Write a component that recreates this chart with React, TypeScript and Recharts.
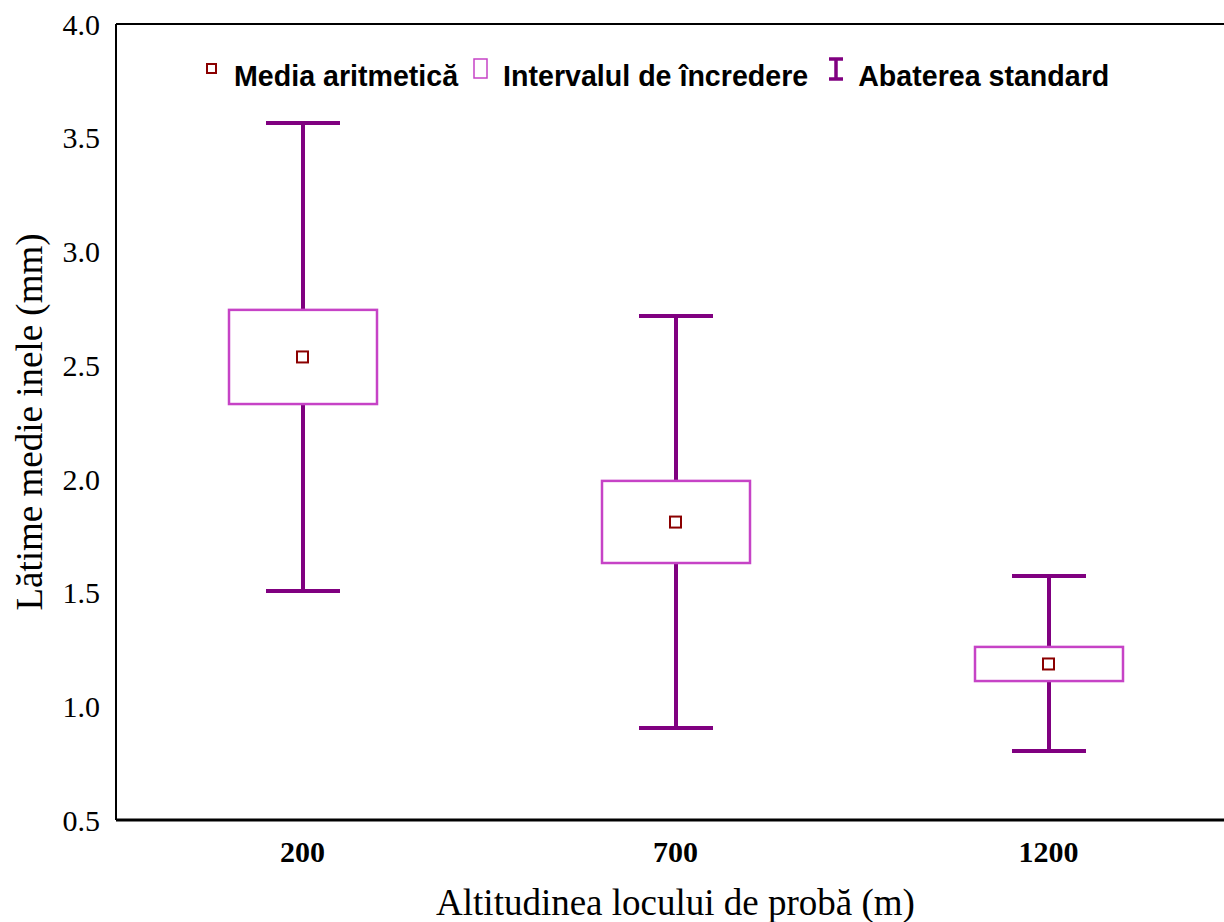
import {
  Bar,
  ComposedChart,
  Legend,
  ReferenceLine,
  Scatter,
  XAxis,
  YAxis,
} from 'recharts';

// altitude classes (m)
const categories = ['200', '700', '1200'];
// arithmetic mean of ring width (mm)
const means = [2.536, 1.81, 1.186];
// confidence interval bounds
const ciLow = [2.329, 1.63, 1.111];
const ciHigh = [2.743, 1.991, 1.261];
// mean ± standard deviation
const sdLow = [1.507, 0.905, 0.803];
const sdHigh = [3.565, 2.716, 1.573];
const yTicks = [0.5, 1.0, 1.5, 2.0, 2.5, 3.0, 3.5, 4.0];

const rows = categories.map((cat, i) => ({
  cat,
  mean: means[i],
  ci: [ciLow[i], ciHigh[i]],
  sd: [sdLow[i], sdHigh[i]],
}));

const PURPLE = '#800080';
const PINK = '#C643C6';
const DARK_RED = '#8B0000';
const SERIF = '"Liberation Serif", "Times New Roman", serif';
const SANS = '"Liberation Sans", Arial, sans-serif';

function Whisker(props: any) {
  const {x, y, width, height} = props;
  const top = Math.min(y, y + height);
  const bottom = Math.max(y, y + height);
  const cx = x + width / 2;
  return (
    <g stroke={PURPLE} strokeWidth={4}>
      <line x1={cx} y1={top} x2={cx} y2={bottom} />
      <line x1={x} y1={top} x2={x + width} y2={top} />
      <line x1={x} y1={bottom} x2={x + width} y2={bottom} />
    </g>
  );
}

function CiBox(props: any) {
  const {x, y, width, height} = props;
  const top = Math.min(y, y + height);
  return (
    <rect
      x={x}
      y={top}
      width={width}
      height={Math.abs(height)}
      fill="#fff"
      stroke={PINK}
      strokeWidth={2.5}
    />
  );
}

function MeanMark(props: any) {
  const {cx, cy} = props;
  return (
    <rect x={cx - 5.5} y={cy - 5.5} width={11} height={11} fill="#fff" stroke={DARK_RED} strokeWidth={2} />
  );
}

function KeyRow() {
  return (
    <div
      style={{
        display: 'flex',
        alignItems: 'flex-start',
        fontFamily: SANS,
        fontWeight: 700,
        fontSize: 28.6,
        lineHeight: '32px',
        color: '#000',
        whiteSpace: 'nowrap',
      }}
    >
      <svg width={11} height={11} style={{marginTop: 3, marginRight: 17}}>
        <rect x={1} y={1} width={9} height={9} fill="#fff" stroke={DARK_RED} strokeWidth={2} />
      </svg>
      <span>Media aritmetică</span>
      <svg width={15} height={21} style={{marginTop: -2, marginLeft: 15, marginRight: 15}}>
        <rect x={1} y={1} width={13} height={19} fill="#fff" stroke={PINK} strokeWidth={1.5} />
      </svg>
      <span>Intervalul de încredere</span>
      <svg width={16} height={24} style={{marginTop: -3, marginLeft: 20, marginRight: 14}}>
        <g stroke={PURPLE} strokeWidth={3.5}>
          <line x1={8} y1={2} x2={8} y2={22} />
          <line x1={1} y1={2} x2={15} y2={2} />
          <line x1={1} y1={22} x2={15} y2={22} />
        </g>
      </svg>
      <span>Abaterea standard</span>
    </div>
  );
}

export default function App() {
  return (
    <div
      style={{
        position: 'absolute',
        left: 0,
        top: 0,
        width: 1224,
        height: 922,
        overflow: 'hidden',
        background: '#fff',
      }}
    >
      <ComposedChart
        width={1240}
        height={922}
        data={rows}
        margin={{top: 24, right: 5, left: 0, bottom: 0}}
      >
        <XAxis
          xAxisId="main"
          dataKey="cat"
          height={102}
          axisLine={{stroke: '#000', strokeWidth: 3}}
          tickLine={false}
          tickSize={0}
          tickMargin={21}
          tick={{fill: '#000', fontSize: 30, fontWeight: 700, fontFamily: SERIF}}
          label={{
            value: 'Altitudinea locului de probă (m)',
            position: 'insideBottom',
            offset: 7,
            style: {fill: '#000', fontSize: 37, fontFamily: SERIF},
          }}
        />
        <XAxis xAxisId="over" dataKey="cat" hide />
        <YAxis
          domain={[0.5, 4]}
          ticks={yTicks}
          interval={0}
          width={116}
          tickFormatter={(v: number) => v.toFixed(1)}
          axisLine={{stroke: '#000', strokeWidth: 2}}
          tickLine={false}
          tickSize={0}
          tickMargin={16}
          tick={{fill: '#000', fontSize: 30, fontFamily: SERIF}}
          label={{
            value: 'Lătime medie inele (mm)',
            angle: -90,
            position: 'insideLeft',
            offset: 29,
            style: {fill: '#000', fontSize: 37, fontFamily: SERIF, textAnchor: 'middle'},
          }}
        />
        <ReferenceLine xAxisId="main" y={4} stroke="#000" strokeWidth={2} />
        <Legend
          layout="horizontal"
          verticalAlign="middle"
          align="center"
          content={() => <KeyRow />}
          wrapperStyle={{top: 60, left: 206, width: 'auto'}}
        />
        <Bar
          xAxisId="over"
          dataKey="sd"
          barSize={74}
          shape={Whisker}
          isAnimationActive={false}
        />
        <Bar
          xAxisId="main"
          dataKey="ci"
          barSize={148}
          shape={CiBox}
          isAnimationActive={false}
        />
        <Scatter
          xAxisId="main"
          dataKey="mean"
          shape={MeanMark}
          isAnimationActive={false}
        />
      </ComposedChart>
    </div>
  );
}
